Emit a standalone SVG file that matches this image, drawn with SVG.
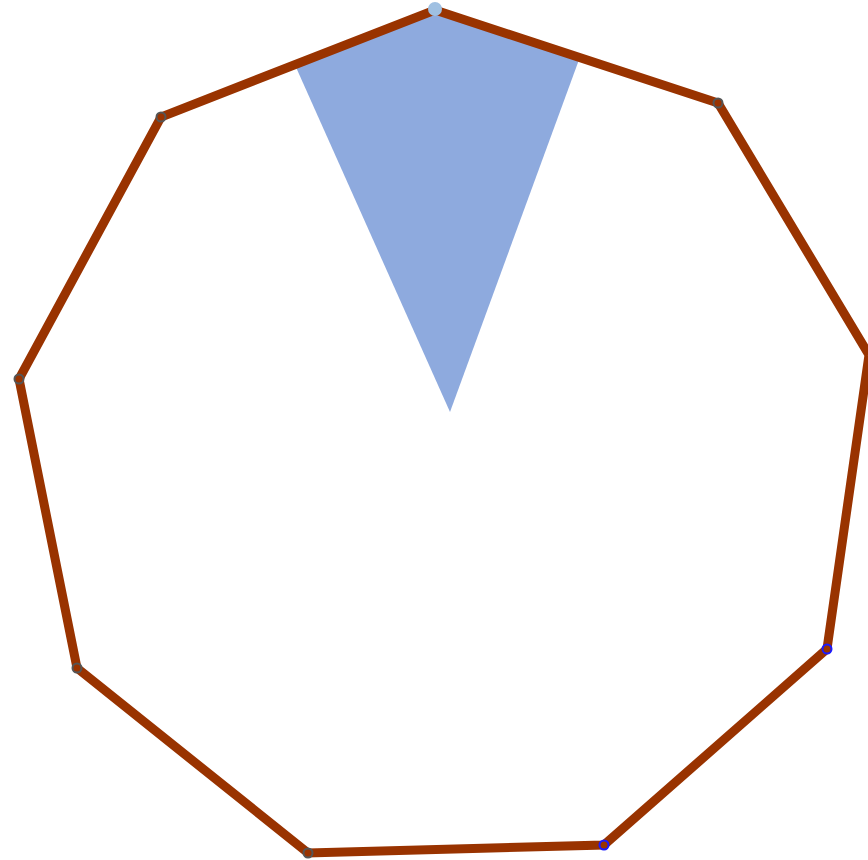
<svg xmlns="http://www.w3.org/2000/svg" width="868" height="860" viewBox="0 0 868 860">
<style>
.edge{fill:none;stroke:#993300;stroke-width:9;stroke-linejoin:miter;stroke-linecap:butt}
.pt{fill:#993300;stroke:#555555;stroke-width:2}
.ptb{fill:#993300;stroke:#1a1aff;stroke-width:2}
</style>
<rect width="868" height="860" fill="#ffffff"/>
<g id="sector">
<polygon points="435,10 580,57 450,412 295,65" fill="#8eaade"/>
</g>
<g id="connectors">
<polygon class="edge" points="435,10 718,103 869,355 827,649 604,845 308,853 77,668 19,379 161,117"/>
</g>
<g id="vertices">
<circle class="pt" cx="718" cy="103" r="4.5"/>
<circle class="pt" cx="161" cy="117" r="4.5"/>
<circle class="pt" cx="19" cy="379" r="4.5"/>
<circle class="pt" cx="77" cy="668" r="4.5"/>
<circle class="pt" cx="308" cy="853" r="4.5"/>
<circle class="ptb" cx="827" cy="649" r="4.5"/>
<circle class="ptb" cx="604" cy="845" r="4.5"/>
</g>
<g id="top">
<circle cx="435" cy="9" r="7" fill="#9fc0e2"/>
</g>
</svg>
